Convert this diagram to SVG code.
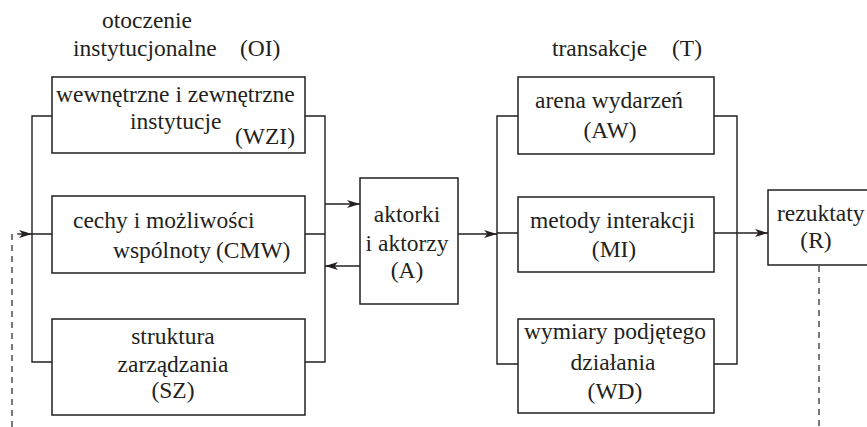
<svg xmlns="http://www.w3.org/2000/svg" width="867" height="427" viewBox="0 0 867 427">
<style>
text{font-family:"Liberation Serif","DejaVu Serif",serif;font-size:23.5px;fill:#231f20}
.c{text-anchor:middle}
.box{fill:#fff;stroke:#231f20;stroke-width:1.5}
.ln{fill:none;stroke:#231f20;stroke-width:1.4}
.da{fill:none;stroke:#231f20;stroke-width:1.2;stroke-dasharray:6,5}
</style>
<defs>
<marker id="ah" viewBox="0 0 13 8" refX="13" refY="4" markerWidth="13" markerHeight="8" orient="auto" markerUnits="userSpaceOnUse">
<path d="M0,0 L13,4 L0,8 L3.5,4 Z" fill="#231f20"/>
</marker>
</defs>
<g id="labels">
<text x="102" y="28">otoczenie</text>
<text x="73" y="56">instytucjonalne</text>
<text x="240" y="56">(OI)</text>
<text x="552" y="56">transakcje</text>
<text x="672" y="56">(T)</text>
</g>
<g id="connectors">
<path class="ln" d="M52,116 H32 V362 H52 M32,234 H52 M305,116 H325 V362 H305 M305,234 H325"/>
<path class="ln" d="M325,204 H360" marker-end="url(#ah)"/>
<path class="ln" d="M360,266 H325" marker-end="url(#ah)"/>
<path class="ln" d="M458,234 H497" marker-end="url(#ah)"/>
<path class="ln" d="M518,116 H497 V364 H518 M497,233 H518 M714,116 H737 V364 H714"/>
<path class="ln" d="M714,233 H768" marker-end="url(#ah)"/>
<path class="da" d="M819,266 V427"/>
<path class="da" d="M12,427 V234 H18"/>
<path class="ln" d="M18,234 H32" marker-end="url(#ah)"/>
</g>
<g id="WZI">
<rect class="box" x="52" y="77" width="253" height="76"/>
<text x="56" y="102">wewnętrzne i zewnętrzne</text>
<text x="130" y="129">instytucje</text>
<text x="235" y="144">(WZI)</text>
</g>
<g id="CMW">
<rect class="box" x="52" y="196" width="253" height="77"/>
<text x="73" y="228">cechy i możliwości</text>
<text x="113" y="258">wspólnoty</text>
<text x="216" y="258">(CMW)</text>
</g>
<g id="SZ">
<rect class="box" x="52" y="319" width="253" height="96"/>
<text class="c" x="173" y="344">struktura</text>
<text class="c" x="173" y="372">zarządzania</text>
<text class="c" x="173" y="398">(SZ)</text>
</g>
<g id="A">
<rect class="box" x="360" y="178" width="98" height="126"/>
<text class="c" x="407" y="222">aktorki</text>
<text class="c" x="407" y="251">i aktorzy</text>
<text class="c" x="407" y="278">(A)</text>
</g>
<g id="AW">
<rect class="box" x="518" y="77" width="196" height="77"/>
<text x="535" y="108">arena wydarzeń</text>
<text class="c" x="610" y="138">(AW)</text>
</g>
<g id="MI">
<rect class="box" x="518" y="197" width="196" height="75"/>
<text x="530" y="228">metody interakcji</text>
<text class="c" x="614" y="257">(MI)</text>
</g>
<g id="WD">
<rect class="box" x="518" y="319" width="196" height="94"/>
<text x="524" y="339">wymiary podjętego</text>
<text class="c" x="613" y="370">działania</text>
<text class="c" x="615" y="399">(WD)</text>
</g>
<g id="R">
<rect class="box" x="768" y="190" width="110" height="75"/>
<text x="777" y="221">rezuktaty</text>
<text class="c" x="816" y="248">(R)</text>
</g>
</svg>
